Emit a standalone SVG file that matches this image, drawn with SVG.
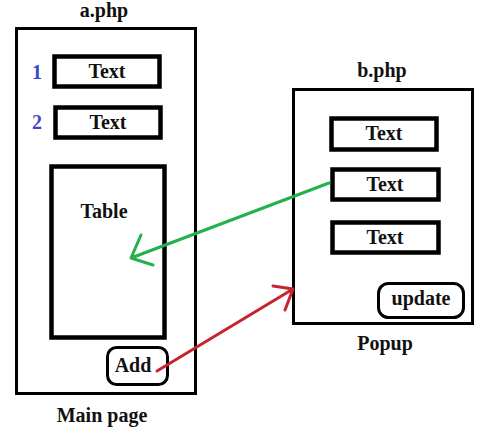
<svg xmlns="http://www.w3.org/2000/svg" width="489" height="433" viewBox="0 0 489 433">
<style>
text{font-weight:bold;font-size:20px;fill:#111;text-anchor:middle}
.num{fill:#3f48cc}
.frame{fill:none;stroke:#000;stroke-width:3}
.box{fill:#fff;stroke:#000;stroke-width:4.5}
.btn{fill:#fff;stroke:#000;stroke-width:3}
.green{fill:none;stroke:#22b14c;stroke-width:3;stroke-linecap:round;stroke-linejoin:round}
.red{fill:none;stroke:#c8242e;stroke-width:3;stroke-linecap:round;stroke-linejoin:round}
</style>
<rect width="489" height="433" fill="#fff"/>
<g font-family="Liberation Serif, Times New Roman, DejaVu Serif, serif">
<g id="a-page">
<rect class="frame" x="16.5" y="28.5" width="179" height="365"/>
<text x="104" y="17">a.php</text>
<text x="102" y="422">Main page</text>
</g>
<g id="a-text1">
<text class="num" x="37" y="79">1</text>
<rect class="box" x="54.5" y="56.5" width="105" height="30"/>
<text x="107" y="78">Text</text>
</g>
<g id="a-text2">
<text class="num" x="37" y="129">2</text>
<rect class="box" x="55.5" y="107.5" width="105" height="30"/>
<text x="108" y="129">Text</text>
</g>
<g id="a-table">
<rect class="box" x="51.5" y="166.5" width="113" height="171"/>
<text x="104" y="218">Table</text>
</g>
<g id="a-add">
<rect class="btn" x="107.5" y="347.5" width="60" height="37" rx="9"/>
<text x="133" y="372">Add</text>
</g>
<g id="b-page">
<rect class="frame" x="293.5" y="89.5" width="179" height="234"/>
<text x="382" y="77">b.php</text>
<text x="385" y="350">Popup</text>
</g>
<g id="b-text1">
<rect class="box" x="331.5" y="118.5" width="105" height="31"/>
<text x="384" y="140">Text</text>
</g>
<g id="b-text2">
<rect class="box" x="332.5" y="169.5" width="106" height="30"/>
<text x="385" y="191">Text</text>
</g>
<g id="b-text3">
<rect class="box" x="332.5" y="222.5" width="106" height="30"/>
<text x="385" y="244">Text</text>
</g>
<g id="b-update">
<rect class="btn" x="378.5" y="283.5" width="85" height="34" rx="10"/>
<text x="421" y="305">update</text>
</g>
</g>
<g id="connectors">
<path class="green" d="M329,183 L131,258 M141,235 L131,258 L153,265"/>
<path class="red" d="M157,371 L293,289 M273,286 L293,289 L285,310"/>
</g>
</svg>
